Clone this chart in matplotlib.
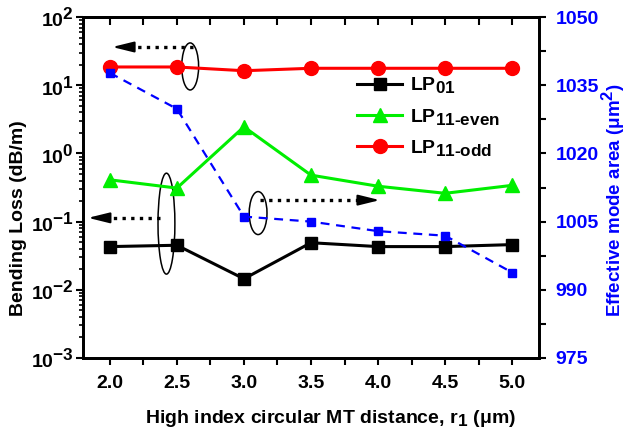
import numpy as np
import matplotlib.pyplot as plt
import matplotlib._mathtext as mathtext_internal
from matplotlib.patches import Ellipse
from matplotlib.ticker import MultipleLocator, LogLocator, NullFormatter

# the original uses nearly full-size sub/superscripts
mathtext_internal.SHRINK_FACTOR = 0.88

plt.rcParams['font.family'] = ['Liberation Sans', 'DejaVu Sans']
plt.rcParams['font.weight'] = 'bold'
plt.rcParams['mathtext.fontset'] = 'custom'
plt.rcParams['mathtext.rm'] = 'Liberation Sans:bold'
plt.rcParams['mathtext.bf'] = 'Liberation Sans:bold'
plt.rcParams['mathtext.it'] = 'Liberation Sans:bold'
plt.rcParams['mathtext.default'] = 'bf'

r1 = [2.0, 2.5, 3.0, 3.5, 4.0, 4.5, 5.0]
loss_lp01 = [0.043, 0.045, 0.0145, 0.049, 0.043, 0.043, 0.046]
loss_lp11_even = [0.41, 0.31, 2.45, 0.48, 0.33, 0.26, 0.34]
loss_lp11_odd = [18.5, 18.5, 16.3, 17.7, 17.7, 17.7, 17.7]
mode_area = [1037.7, 1029.8, 1006.1, 1005.0, 1002.9, 1001.9, 993.8]

fig = plt.figure(figsize=(6.27, 4.34), dpi=100)
ax = fig.add_axes([83 / 627, 1 - 358 / 434, 456 / 627, 341 / 434])

ax.plot(r1, loss_lp01, '-s', color='black', lw=2.2, ms=9, label=r'LP$_{01}$')
ax.plot(r1, loss_lp11_even, '-^', color='#00ee00', lw=2.2, ms=10, label=r'LP$_{11\text{-}even}$')
ax.plot(r1, loss_lp11_odd, '-o', color='#ff0000', lw=2.2, ms=10, label=r'LP$_{11\text{-}odd}$')

ax.set_yscale('log')
ax.set_ylim(1e-3, 1e2)
ax.set_xlim(1.8, 5.2)
ax.xaxis.set_major_locator(MultipleLocator(0.5))
ax.xaxis.set_minor_locator(MultipleLocator(0.25))
ax.yaxis.set_major_locator(LogLocator(base=10, numticks=10))
ax.yaxis.set_minor_locator(LogLocator(base=10, subs=np.arange(2, 10), numticks=10))
ax.yaxis.set_minor_formatter(NullFormatter())
ax.tick_params(axis='both', which='major', labelsize=14, width=1.5, length=5, direction='out')
ax.tick_params(axis='y', which='minor', width=1.2, length=3, direction='out')
ax.tick_params(axis='x', which='minor', width=1.5, length=5, direction='out')
ax.tick_params(axis='x', which='major', pad=7.5)
ax.tick_params(axis='y', which='major', pad=1.5)
for s in ax.spines.values():
    s.set_linewidth(2)

top = ax.secondary_xaxis('top')
top.xaxis.set_major_locator(MultipleLocator(0.5))
top.xaxis.set_minor_locator(MultipleLocator(0.25))
top.tick_params(which='both', direction='in', length=6, width=1.5, labeltop=False)
top.spines['top'].set_linewidth(2)

ax.set_xlabel(r'High index circular MT distance, r$_1$ ($\mathregular{\mu}$m)', fontsize=14,
              fontweight='bold')
ax.xaxis.set_label_coords(0.542, -0.148)
ax.set_ylabel('Bending Loss (dB/m)', fontsize=14, fontweight='bold')
ax.yaxis.set_label_coords(-0.123, 0.41)

ax2 = ax.twinx()
ax2.plot(r1, mode_area, '--s', color='#0000ff', lw=1.6, ms=6, dashes=(4, 3))
ax2.set_ylim(975, 1050)
ax2.yaxis.set_major_locator(MultipleLocator(15))
ax2.yaxis.set_minor_locator(MultipleLocator(7.5))
ax2.tick_params(axis='y', which='both', labelsize=14, labelcolor='#0000ff', width=1.5, length=5,
                direction='out', pad=7)
ax2.set_ylabel(r'Effective mode area ($\mathregular{\mu}$m$^2$)', color='#0000ff', fontsize=13.5,
               fontweight='bold')
ax2.yaxis.set_label_coords(1.132, 0.463)
for s in ax2.spines.values():
    s.set_linewidth(2)

leg = ax.legend(loc='upper left', bbox_to_anchor=(0.563, 0.88), frameon=False, fontsize=14,
                handlelength=2.3, labelspacing=0.58, handletextpad=0.4)

# annotations: dotted arrows and ellipses (axes fraction)
arrows = [((0.241, 0.912), (0.064, 0.912)),
          ((0.169, 0.411), (0.011, 0.411)),
          ((0.388, 0.463), (0.651, 0.463))]
for tail, head in arrows:
    d = 1 if head[0] > tail[0] else -1
    start = (head[0] - d * 0.042, head[1])
    ax.plot([tail[0], start[0]], [tail[1], start[1]], ls=(0, (1, 1.6)), color='black', lw=2.4,
            transform=ax.transAxes)
    ax.annotate('', xy=head, xytext=start, xycoords='axes fraction', textcoords='axes fraction',
                arrowprops=dict(arrowstyle='-|>,head_length=1.3,head_width=0.32', color='black',
                                lw=1.5, shrinkA=0, shrinkB=0))

ellipses = [((0.235, 0.855), 0.037, 0.138),
            ((0.183, 0.394), 0.037, 0.296),
            ((0.384, 0.425), 0.039, 0.126)]
for (cx, cy), w, h in ellipses:
    ax.add_patch(Ellipse((cx, cy), w, h, transform=ax.transAxes, fill=False, ec='black', lw=1.1))

fig.savefig('out.png', dpi=100)
